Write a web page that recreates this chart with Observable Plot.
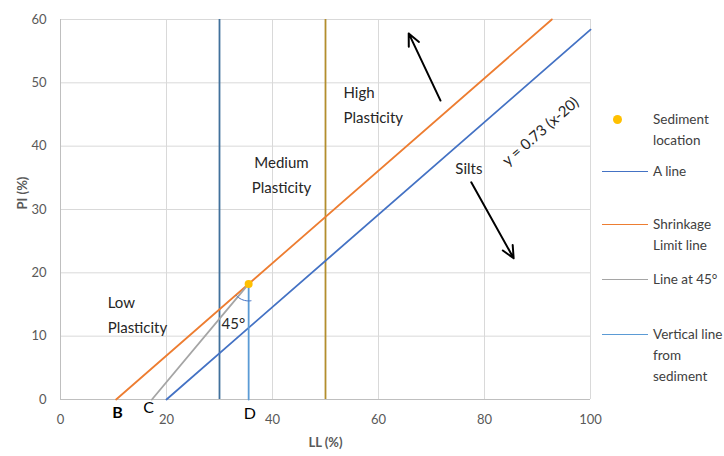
<!DOCTYPE html>
<html><head><meta charset="utf-8">
<script src="https://cdn.jsdelivr.net/npm/d3@7"></script>
<script src="https://cdn.jsdelivr.net/npm/@observablehq/plot@0.6"></script>
<style>
body{margin:0;background:#fff;font-family:Lato,"Open Sans",sans-serif;}
#wrap{position:relative;width:724px;height:456px;}
.lg{position:absolute;font-size:13.5px;color:#404040;line-height:21px;}
.sw{position:absolute;height:0;border-top:1.8px solid;width:46px;}
.dot{position:absolute;width:9px;height:9px;border-radius:50%;background:#FFC000;}
</style></head>
<body><div id="wrap"></div>
<script>
// Data
const xTicks = [0, 20, 40, 60, 80, 100];
const yTicks = [0, 10, 20, 30, 40, 50, 60];
const aLineSlope = 0.73, aLineIntercept = 20;      // y = 0.73 (x-20)
const aLineX = [20, 100];
const shrinkIntercept = 10.5;                        // point B
const shrinkX = [10.5, 92.7];
const sediment = [{ll: 35.5, pi: 18.25}];
const pointC = 17.25;                                // 45° line foot
const verticalA = 30;                                // dark blue vertical
const verticalHigh = 50;                             // golden vertical
const pointLabels = [
  {t: "B", x: 10.75, y: -2.05, bold: true},
  {t: "C", x: 16.6, y: -1.3, bold: false},
  {t: "D", x: 35.7, y: -2.2, bold: false}
];
const regionLabels = [
  {t: "Low\nPlasticity", x: 8.9, y: 13.8, a: "start"},
  {t: "Medium\nPlasticity", x: 41.7, y: 35.9, a: "middle"},
  {t: "High\nPlasticity", x: 53.4, y: 46.9, a: "start"},
  {t: "Silts", x: 74.5, y: 36.9, a: "start"},
  {t: "45°", x: 30.4, y: 12.4, a: "start"}
];
const arrows = [
  {x1: 71.7, y1: 47.2, x2: 65.7, y2: 57.8},
  {x1: 77.5, y1: 34.3, x2: 85.5, y2: 22.3}
];

const aLine = aLineX.map(x => ({x, y: aLineSlope * (x - aLineIntercept)}));
const shrink = shrinkX.map(x => ({x, y: aLineSlope * (x - shrinkIntercept)}));
const s = sediment[0];
const line45 = [{x: pointC, y: 0}, {x: s.ll, y: s.pi}];
const sedVert = [{x: s.ll, y: 0}, {x: s.ll, y: s.pi}];
// small angle arc between the 45° line and the vertical (px radius converted to data units)
const pxX = 530 / 100, pxY = 380 / 60, r = 17;
const arc = d3.range(0, 11).map(i => {
  const ang = (223 + i * 5.5) * Math.PI / 180;
  return {x: s.ll + r * Math.cos(ang) / pxX, y: s.pi + r * Math.sin(ang) / pxY};
});

const textOpts = {x: "x", y: "y", text: "t", lineHeight: 1.7, fontSize: 15, fill: "#262626"};
const chart = Plot.plot({
  width: 724, height: 456,
  marginLeft: 60, marginRight: 134, marginTop: 19, marginBottom: 57,
  x: {domain: [0, 100]},
  y: {domain: [0, 60]},
  style: {fontFamily: "Lato, 'Open Sans', sans-serif", fontSize: "13px", background: "white"},
  marks: [
    Plot.gridX(xTicks, {stroke: "#d9d9d9", strokeOpacity: 1}),
    Plot.gridY(yTicks, {stroke: "#d9d9d9", strokeOpacity: 1}),
    Plot.ruleX([0], {stroke: "#bfbfbf"}),
    Plot.ruleY([0], {stroke: "#bfbfbf"}),
    Plot.axisX(xTicks, {tickSize: 0, tickPadding: 15, label: null, fill: "#595959", fontSize: 13}),
    Plot.axisY(yTicks, {tickSize: 0, tickPadding: 14, label: null, fill: "#595959", fontSize: 13}),
    Plot.text(["PI (%)"], {frameAnchor: "left", dx: -38, rotate: -90, fontWeight: "bold", fill: "#595959", fontSize: 13}),
    Plot.text(["LL (%)"], {frameAnchor: "bottom", dy: 47, fontWeight: "bold", fill: "#595959", fontSize: 13}),
    Plot.ruleX([verticalA], {stroke: "#41719C", strokeWidth: 1.8}),
    Plot.ruleX([verticalHigh], {stroke: "#B38E2D", strokeWidth: 1.8}),
    Plot.line(aLine, {x: "x", y: "y", stroke: "#4472C4", strokeWidth: 1.8}),
    Plot.line(shrink, {x: "x", y: "y", stroke: "#ED7D31", strokeWidth: 1.8}),
    Plot.line(line45, {x: "x", y: "y", stroke: "#A5A5A5", strokeWidth: 1.8}),
    Plot.line(sedVert, {x: "x", y: "y", stroke: "#5B9BD5", strokeWidth: 1.8}),
    Plot.line(arc, {x: "x", y: "y", stroke: "#4472C4", strokeWidth: 1, curve: "natural"}),
    Plot.dot(sediment, {x: "ll", y: "pi", r: 4, fill: "#FFC000"}),
    Plot.arrow(arrows, {x1: "x1", y1: "y1", x2: "x2", y2: "y2", stroke: "black", strokeWidth: 2, headLength: 10, headAngle: 50}),
    Plot.text(regionLabels.filter(d => d.a === "start"), {...textOpts, textAnchor: "start"}),
    Plot.text(regionLabels.filter(d => d.a === "middle"), {...textOpts, textAnchor: "middle"}),
    Plot.text(pointLabels.filter(d => d.bold), {x: "x", y: "y", text: "t", fontSize: 16, fontWeight: "bold", fill: "black"}),
    Plot.text(pointLabels.filter(d => !d.bold), {x: "x", y: "y", text: "t", fontSize: 16, fill: "black"}),
    Plot.text([{x: 90.6, y: 42.3}], {x: "x", y: "y", text: () => "y = 0.73 (x-20)", rotate: -41, fontSize: 15, fill: "#262626"})
  ]
});
const wrap = document.getElementById("wrap");
wrap.appendChild(chart);

// legend
const legend = [
  {kind: "dot", color: "#FFC000", lines: ["Sediment", "location"], y: 109},
  {kind: "line", color: "#4472C4", lines: ["A line"], y: 161},
  {kind: "line", color: "#ED7D31", lines: ["Shrinkage", "Limit line"], y: 214},
  {kind: "line", color: "#A5A5A5", lines: ["Line at 45°"], y: 269},
  {kind: "line", color: "#5B9BD5", lines: ["Vertical line", "from", "sediment"], y: 324}
];
legend.forEach(d => {
  const t = document.createElement("div");
  t.className = "lg";
  t.style.left = "653px"; t.style.top = d.y + "px";
  t.innerHTML = d.lines.join("<br>");
  wrap.appendChild(t);
  if (d.kind === "dot") {
    const o = document.createElement("div");
    o.className = "dot"; o.style.left = "613px"; o.style.top = (d.y + 6) + "px";
    wrap.appendChild(o);
  } else {
    const o = document.createElement("div");
    o.className = "sw"; o.style.left = "602px"; o.style.top = (d.y + 10) + "px";
    o.style.borderColor = d.color;
    wrap.appendChild(o);
  }
});
</script></body></html>
